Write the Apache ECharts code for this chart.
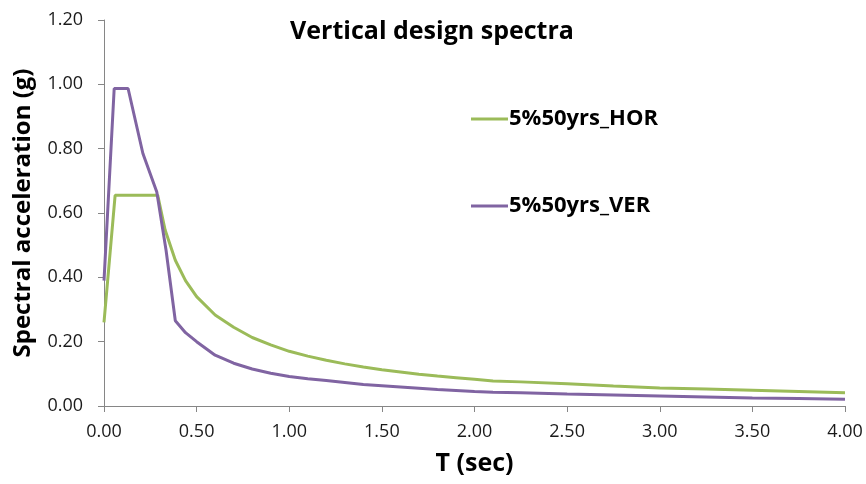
<!DOCTYPE html>
<html lang="en">
<head>
    <meta charset="UTF-8">
    <title>Vertical design spectra</title>
    <script src="https://cdn.jsdelivr.net/npm/echarts@6/dist/echarts.min.js"></script>
    <style>
        body { margin: 0; background: #fff; }
    </style>
</head>
<body>
    <div id="chart" style="width: 866px; height: 484px"></div>
    <script type="text/javascript">
        // period T (sec) and spectral acceleration (g)
        let horT = [0, 0.06, 0.29, 0.33, 0.385, 0.44, 0.5, 0.6, 0.7, 0.8, 0.9, 1.0, 1.1, 1.2, 1.3, 1.4, 1.5, 1.6, 1.7, 1.8, 1.9, 2.0, 2.1, 2.25, 2.5, 2.75, 3.0, 3.25, 3.5, 3.75, 4.0];
        let horSa = [0.26, 0.655, 0.655, 0.547, 0.453, 0.39, 0.34, 0.283, 0.245, 0.213, 0.19, 0.17, 0.155, 0.142, 0.131, 0.121, 0.113, 0.106, 0.099, 0.093, 0.088, 0.083, 0.078, 0.075, 0.069, 0.062, 0.056, 0.053, 0.049, 0.045, 0.041];
        let verT = [0, 0.055, 0.13, 0.21, 0.285, 0.335, 0.385, 0.44, 0.5, 0.6, 0.7, 0.8, 0.9, 1.0, 1.1, 1.2, 1.3, 1.4, 1.5, 1.6, 1.7, 1.8, 1.9, 2.0, 2.1, 2.25, 2.5, 2.75, 3.0, 3.25, 3.5, 3.75, 4.0];
        let verSa = [0.39, 0.987, 0.987, 0.785, 0.665, 0.484, 0.265, 0.228, 0.2, 0.158, 0.133, 0.115, 0.102, 0.092, 0.085, 0.079, 0.073, 0.067, 0.063, 0.059, 0.055, 0.051, 0.048, 0.045, 0.043, 0.041, 0.037, 0.034, 0.031, 0.028, 0.025, 0.023, 0.021];
        let seriesNames = ['5%50yrs_HOR', '5%50yrs_VER'];

        let font = '"Open Sans", sans-serif';
        let pair = (xs, ys) => xs.map((x, i) => [x, ys[i]]);

        let myChart = echarts.init(document.getElementById('chart'));
        let option = {
            animation: false,
            title: {
                text: 'Vertical design spectra',
                left: 427, top: 14, textAlign: 'center',
                textStyle: {fontFamily: font, fontSize: 25, fontWeight: 'bold', color: '#000'}
            },
            legend: {
                data: seriesNames,
                orient: 'vertical',
                left: 466, top: 103,
                itemWidth: 37, itemHeight: 3, itemGap: 65,
                icon: 'rect',
                textStyle: {fontFamily: font, fontSize: 22, fontWeight: 'bold', color: '#000', padding: [0, 0, 0, -4]}
            },
            grid: {left: 104, right: 21, top: 20, bottom: 78},
            xAxis: {
                type: 'value', min: 0, max: 4, interval: 0.5,
                name: 'T (sec)', nameLocation: 'middle', nameGap: 45,
                nameTextStyle: {fontFamily: font, fontSize: 25, fontWeight: 'bold', color: '#000'},
                axisLine: {lineStyle: {color: '#868686', width: 1}},
                axisTick: {show: true, length: 6, lineStyle: {color: '#868686'}},
                axisLabel: {fontFamily: font, fontSize: 18, color: '#1a1a1a', margin: 17, formatter: v => v.toFixed(2)},
                splitLine: {show: false}
            },
            yAxis: {
                type: 'value', min: 0, max: 1.2, interval: 0.2,
                name: 'Spectral acceleration (g)', nameLocation: 'middle', nameGap: 69,
                nameTextStyle: {fontFamily: font, fontSize: 24, fontWeight: 'bold', color: '#000'},
                axisLine: {show: true, lineStyle: {color: '#868686', width: 1}},
                axisTick: {show: true, length: 6, lineStyle: {color: '#868686'}},
                axisLabel: {fontFamily: font, fontSize: 18, color: '#1a1a1a', margin: 21, formatter: v => v.toFixed(2)},
                splitLine: {show: false}
            },
            series: [
                {name: seriesNames[0], type: 'line', data: pair(horT, horSa), showSymbol: false, symbol: 'none',
                    lineStyle: {color: '#9BBB59', width: 3}, itemStyle: {color: '#9BBB59'}},
                {name: seriesNames[1], type: 'line', data: pair(verT, verSa), showSymbol: false, symbol: 'none',
                    lineStyle: {color: '#8064A2', width: 3}, itemStyle: {color: '#8064A2'}}
            ]
        };
        myChart.setOption(option);
    </script>
</body>
</html>
